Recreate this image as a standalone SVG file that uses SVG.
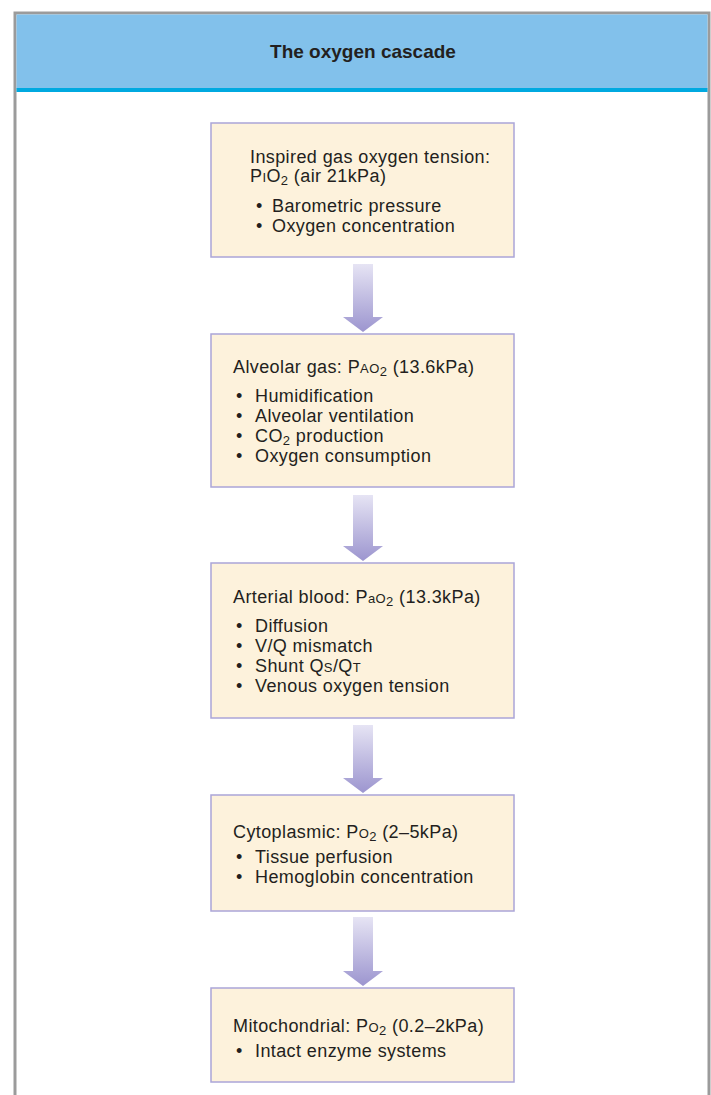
<svg xmlns="http://www.w3.org/2000/svg" width="711" height="1095" viewBox="0 0 711 1095">
<defs>
<linearGradient id="ag" x1="0" y1="0" x2="0" y2="1">
<stop offset="0" stop-color="#e6e4f4"/>
<stop offset="1" stop-color="#9c95cf"/>
</linearGradient>
<style>
.box{fill:#fdf2dc;stroke:#aba5d8;stroke-width:1.5}
.t{font-family:"Liberation Sans",Arial,sans-serif;font-size:18px;letter-spacing:0.4px;fill:#231f20}
.sc{font-size:13px}
.sub{font-size:13px}
.arr{fill:url(#ag)}
</style>
</defs>
<rect x="0" y="0" width="711" height="1095" fill="#ffffff"/>
<g id="frame">
<rect x="15" y="13" width="694" height="1100" fill="#ffffff" stroke="#9b9b9b" stroke-width="3"/>
<rect x="16.5" y="14.5" width="691" height="74" fill="#82c1eb"/>
<rect x="16.5" y="88" width="691" height="4" fill="#00a9e0"/>
<text x="363" y="58" text-anchor="middle" style="font-family:'Liberation Sans',Arial,sans-serif;font-size:19px;font-weight:bold;fill:#231f20">The oxygen cascade</text>
</g>
<g id="connectors">
<path class="arr" d="M353,264 H373 V317 H383 L363,332 L343,317 H353 Z"/>
<path class="arr" d="M353,495 H373 V546 H383 L363,561 L343,546 H353 Z"/>
<path class="arr" d="M353,725 H373 V778 H383 L363,793 L343,778 H353 Z"/>
<path class="arr" d="M353,917 H373 V971 H383 L363,986 L343,971 H353 Z"/>
</g>
<g id="node1">
<rect class="box" x="211" y="123" width="303" height="134"/>
<text class="t" x="250" y="163">Inspired gas oxygen tension:</text>
<text class="t" x="250" y="182">P<tspan class="sc">I</tspan>O<tspan class="sub" dy="3">2</tspan><tspan dy="-3"> (air 21kPa)</tspan></text>
<text class="t" x="256" y="212">•</text><text class="t" x="272" y="212">Barometric pressure</text>
<text class="t" x="256" y="232">•</text><text class="t" x="272" y="232">Oxygen concentration</text>
</g>
<g id="node2">
<rect class="box" x="211" y="334" width="303" height="153"/>
<text class="t" x="233" y="373">Alveolar gas: P<tspan class="sc">AO</tspan><tspan class="sub" dy="3">2</tspan><tspan dy="-3"> (13.6kPa)</tspan></text>
<text class="t" x="236" y="402">•</text><text class="t" x="255" y="402">Humidification</text>
<text class="t" x="236" y="422">•</text><text class="t" x="255" y="422">Alveolar ventilation</text>
<text class="t" x="236" y="442">•</text><text class="t" x="255" y="442">CO<tspan class="sub" dy="3">2</tspan><tspan dy="-3"> production</tspan></text>
<text class="t" x="236" y="462">•</text><text class="t" x="255" y="462">Oxygen consumption</text>
</g>
<g id="node3">
<rect class="box" x="211" y="563" width="303" height="155"/>
<text class="t" x="233" y="603">Arterial blood: P<tspan class="sc">aO</tspan><tspan class="sub" dy="3">2</tspan><tspan dy="-3"> (13.3kPa)</tspan></text>
<text class="t" x="236" y="632">•</text><text class="t" x="255" y="632">Diffusion</text>
<text class="t" x="236" y="652">•</text><text class="t" x="255" y="652">V/Q mismatch</text>
<text class="t" x="236" y="672">•</text><text class="t" x="255" y="672">Shunt Q<tspan class="sc">S</tspan>/Q<tspan class="sc">T</tspan></text>
<text class="t" x="236" y="692">•</text><text class="t" x="255" y="692">Venous oxygen tension</text>
</g>
<g id="node4">
<rect class="box" x="211" y="795" width="303" height="116"/>
<text class="t" x="233" y="838">Cytoplasmic: P<tspan class="sc">O</tspan><tspan class="sub" dy="3">2</tspan><tspan dy="-3"> (2–5kPa)</tspan></text>
<text class="t" x="236" y="863">•</text><text class="t" x="255" y="863">Tissue perfusion</text>
<text class="t" x="236" y="883">•</text><text class="t" x="255" y="883">Hemoglobin concentration</text>
</g>
<g id="node5">
<rect class="box" x="211" y="988" width="303" height="94"/>
<text class="t" x="233" y="1032">Mitochondrial: P<tspan class="sc">O</tspan><tspan class="sub" dy="3">2</tspan><tspan dy="-3"> (0.2–2kPa)</tspan></text>
<text class="t" x="236" y="1057">•</text><text class="t" x="255" y="1057">Intact enzyme systems</text>
</g>
</svg>
